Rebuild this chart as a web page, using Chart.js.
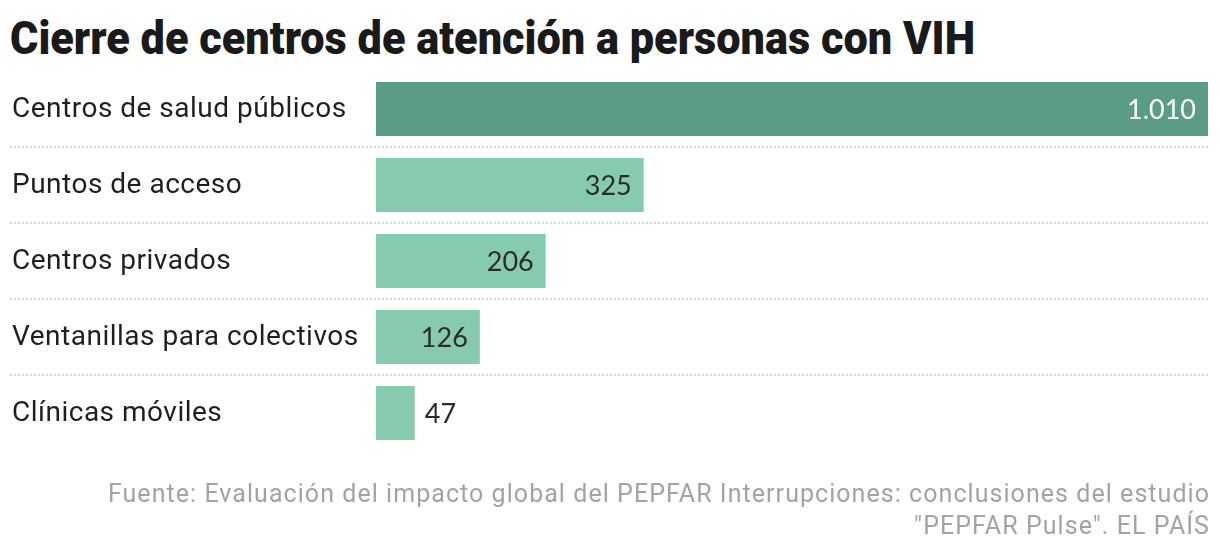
<!DOCTYPE html>
<html>
<head>
<meta charset="utf-8">
<script src="https://cdn.jsdelivr.net/npm/chart.js@4.4.1/dist/chart.umd.min.js"></script>
<style>
  html, body { margin: 0; padding: 0; background: #fff; }
  #wrap { position: relative; width: 1220px; height: 558px; overflow: hidden; }
  #title {
    position: absolute; left: 10px; top: 15px;
    font-family: Roboto, sans-serif;
    font-weight: 900; font-size: 46px; line-height: 46px; color: #1a1a1a;
    white-space: nowrap; transform-origin: 0 0;
  }
  #source {
    position: absolute; right: 10px; top: 478px; text-align: right;
    font-family: Roboto, sans-serif; font-size: 25px; line-height: 32px; color: #a3a3a3;
    letter-spacing: 1.05px; white-space: nowrap;
  }
  canvas { position: absolute; left: 0; top: 0; }
</style>
</head>
<body>
<div id="wrap">
  <div id="title">Cierre de centros de atención a personas con VIH</div>
  <canvas id="chart" width="1220" height="558"></canvas>
  <div id="source">Fuente: Evaluación del impacto global del PEPFAR Interrupciones: conclusiones del estudio<br>"PEPFAR Pulse". EL PAÍS</div>
</div>
<script>
const categories = [
  "Centros de salud públicos",
  "Puntos de acceso",
  "Centros privados",
  "Ventanillas para colectivos",
  "Clínicas móviles"
];
const closures = [1010, 325, 206, 126, 47];
const barColors = ["#5b9c84", "#86cbad", "#86cbad", "#86cbad", "#86cbad"];

// squeeze the title to the width it has in the original
const title = document.getElementById("title");
title.style.transform = "scaleX(" + (965 / title.offsetWidth) + ")";

// 1010 -> "1.010"
const formatNumber = (v) => String(v).replace(/\B(?=(\d{3})+(?!\d))/g, ".");

// category labels on the left, dotted separators and value labels
const decorations = {
  id: "decorations",
  beforeDatasetsDraw(chart) {
    const ctx = chart.ctx;
    const y = chart.scales.y;
    ctx.save();
    ctx.strokeStyle = "#d6d6d6";
    ctx.lineWidth = 2;
    ctx.setLineDash([2, 2]);
    for (let i = 0; i < categories.length - 1; i++) {
      const sep = (y.getPixelForValue(i) + y.getPixelForValue(i + 1)) / 2;
      ctx.beginPath();
      ctx.moveTo(10, Math.round(sep));
      ctx.lineTo(chart.chartArea.right, Math.round(sep));
      ctx.stroke();
    }
    ctx.restore();
  },
  afterDatasetsDraw(chart) {
    const ctx = chart.ctx;
    const y = chart.scales.y;
    const bars = chart.getDatasetMeta(0).data;
    ctx.save();
    ctx.font = "28px Roboto, sans-serif";
    ctx.letterSpacing = "0.5px";
    ctx.textBaseline = "middle";
    categories.forEach((label, i) => {
      ctx.fillStyle = "#1f1f1f";
      ctx.textAlign = "left";
      ctx.fillText(label, 12, y.getPixelForValue(i) + 1);
    });
    ctx.letterSpacing = "0px";
    ctx.font = "27px Lato, sans-serif";
    bars.forEach((bar, i) => {
      const text = formatNumber(closures[i]);
      const width = bar.x - bar.base;
      if (width > 80) {
        ctx.textAlign = "right";
        ctx.fillStyle = i === 0 ? "#ffffff" : "#2b2b2b";
        ctx.fillText(text, bar.x - 12, bar.y + 1);
      } else {
        ctx.textAlign = "left";
        ctx.fillStyle = "#2b2b2b";
        ctx.fillText(text, bar.x + 10, bar.y + 1);
      }
    });
    ctx.restore();
  }
};

new Chart(document.getElementById("chart"), {
  type: "bar",
  data: {
    labels: categories,
    datasets: [{
      data: closures,
      backgroundColor: barColors,
      borderWidth: 0,
      barPercentage: 0.71,
      categoryPercentage: 1.0
    }]
  },
  options: {
    indexAxis: "y",
    responsive: false,
    animation: false,
    layout: { padding: { left: 376, right: 12, top: 71, bottom: 107 } },
    plugins: { legend: { display: false }, tooltip: { enabled: false } },
    scales: {
      x: { display: false, min: 0, max: 1010 },
      y: { display: false }
    }
  },
  plugins: [decorations]
});
</script>
</body>
</html>
